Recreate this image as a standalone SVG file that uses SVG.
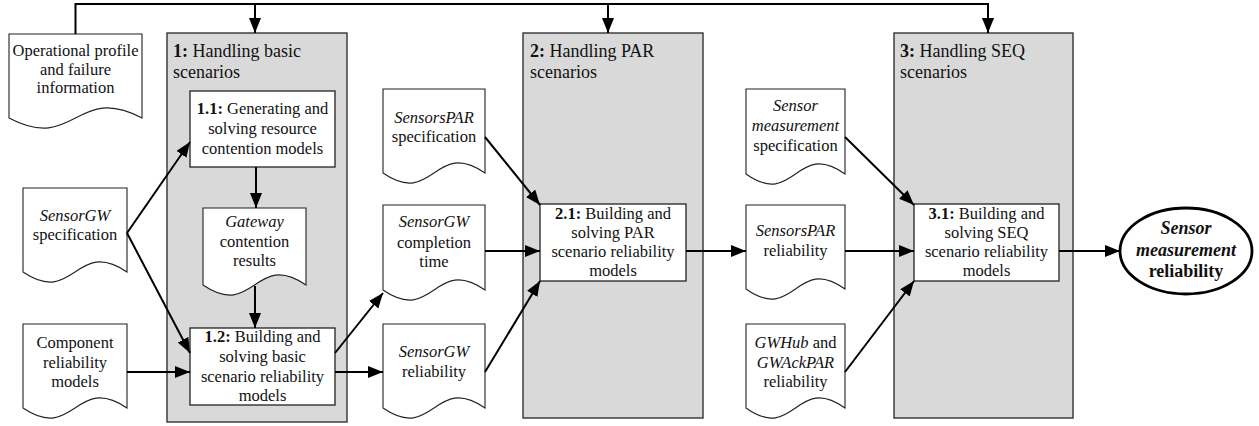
<svg xmlns="http://www.w3.org/2000/svg" width="1259" height="426" viewBox="0 0 1259 426">
<defs>
<marker id="ah" markerUnits="userSpaceOnUse" markerWidth="16" markerHeight="13" refX="15" refY="6" orient="auto">
<path d="M0,0 L15,6 L0,12 z" fill="#000"/>
</marker>
<style>
text{font-family:"Liberation Serif","Times New Roman",serif;font-size:16.5px;fill:#111;}
.c{text-anchor:middle;}
.h{font-size:18px;}
.i{font-style:italic;}
.b{font-weight:bold;}
.grp{fill:#d9d9d9;stroke:#333;stroke-width:1.4;}
.box{fill:#fff;stroke:#222;stroke-width:1.3;}
.doc{fill:#fff;stroke:#222;stroke-width:1.1;}
.con{fill:none;stroke:#000;stroke-width:2;}
.ell{fill:#fff;stroke:#000;stroke-width:2.8;}
.e{font-size:18px;font-weight:bold;}
</style>
</defs>

<g id="group1">
<rect class="grp" x="167" y="33" width="180" height="389"/>
<text x="173" y="57" class="h"><tspan class="b">1:</tspan> Handling basic</text>
<text x="173" y="78" class="h">scenarios</text>
</g>
<g id="group2">
<rect class="grp" x="523" y="33" width="180" height="385"/>
<text x="530" y="57" class="h"><tspan class="b">2:</tspan> Handling PAR</text>
<text x="530" y="78" class="h">scenarios</text>
</g>
<g id="group3">
<rect class="grp" x="894" y="33" width="179" height="385"/>
<text x="900" y="57" class="h"><tspan class="b">3:</tspan> Handling SEQ</text>
<text x="900" y="78" class="h">scenarios</text>
</g>

<g id="task11">
<rect class="box" x="190" y="91" width="145" height="76"/>
<text class="c" x="262.5" y="114"><tspan class="b">1.1:</tspan> Generating and</text>
<text class="c" x="262.5" y="134">solving resource</text>
<text class="c" x="262.5" y="154">contention models</text>
</g>
<g id="task12">
<rect class="box" x="190" y="328" width="145" height="77"/>
<text class="c" x="262.5" y="342"><tspan class="b">1.2:</tspan> Building and</text>
<text class="c" x="262.5" y="362">solving basic</text>
<text class="c" x="262.5" y="382">scenario reliability</text>
<text class="c" x="262.5" y="401">models</text>
</g>
<g id="task21">
<rect class="box" x="540" y="204" width="146" height="77"/>
<text class="c" x="613" y="219"><tspan class="b">2.1:</tspan> Building and</text>
<text class="c" x="613" y="238">solving PAR</text>
<text class="c" x="613" y="257">scenario reliability</text>
<text class="c" x="613" y="276">models</text>
</g>
<g id="task31">
<rect class="box" x="914" y="204" width="145" height="77"/>
<text class="c" x="986.5" y="219"><tspan class="b">3.1:</tspan> Building and</text>
<text class="c" x="986.5" y="238">solving SEQ</text>
<text class="c" x="986.5" y="257">scenario reliability</text>
<text class="c" x="986.5" y="276">models</text>
</g>

<g id="doc-op">
<path class="doc" d="M9,34 H142 V118 C75.5,83 75.5,153 9,118 Z"/>
<text class="c" x="75.5" y="56">Operational profile</text>
<text class="c" x="75.5" y="75">and failure</text>
<text class="c" x="75.5" y="93">information</text>
</g>
<g id="doc-sgwspec">
<path class="doc" d="M23,188 H127 V272 C75,237 75,307 23,272 Z"/>
<text class="c i" x="75" y="221">SensorGW</text>
<text class="c" x="75" y="240">specification</text>
</g>
<g id="doc-comp">
<path class="doc" d="M23,324 H127 V408 C75,373 75,443 23,408 Z"/>
<text class="c" x="75" y="348">Component</text>
<text class="c" x="75" y="368">reliability</text>
<text class="c" x="75" y="387">models</text>
</g>
<g id="doc-gw">
<path class="doc" d="M203,208 H306 V285 C254.5,250 254.5,320 203,285 Z"/>
<text class="c i" x="254.5" y="227">Gateway</text>
<text class="c" x="254.5" y="247">contention</text>
<text class="c" x="254.5" y="266">results</text>
</g>
<g id="doc-sparspec">
<path class="doc" d="M383,89 H485 V173 C434,138 434,208 383,173 Z"/>
<text class="c i" x="434" y="123">SensorsPAR</text>
<text class="c" x="434" y="142">specification</text>
</g>
<g id="doc-sgwct">
<path class="doc" d="M383,205 H485 V290 C434,255 434,325 383,290 Z"/>
<text class="c i" x="434" y="227">SensorGW</text>
<text class="c" x="434" y="248">completion</text>
<text class="c" x="434" y="267">time</text>
</g>
<g id="doc-sgwrel">
<path class="doc" d="M383,324 H485 V408 C434,373 434,443 383,408 Z"/>
<text class="c i" x="434" y="357">SensorGW</text>
<text class="c" x="434" y="377">reliability</text>
</g>
<g id="doc-smspec">
<path class="doc" d="M746,89 H845 V174 C795.5,139 795.5,209 746,174 Z"/>
<text class="c i" x="795.5" y="111">Sensor</text>
<text class="c i" x="795.5" y="131">measurement</text>
<text class="c" x="795.5" y="151">specification</text>
</g>
<g id="doc-sparrel">
<path class="doc" d="M746,205 H845 V289 C795.5,254 795.5,324 746,289 Z"/>
<text class="c i" x="795.5" y="236">SensorsPAR</text>
<text class="c" x="795.5" y="256">reliability</text>
</g>
<g id="doc-gwhub">
<path class="doc" d="M746,324 H845 V408 C795.5,373 795.5,443 746,408 Z"/>
<text class="c" x="795.5" y="348"><tspan class="i">GWHub</tspan> and</text>
<text class="c i" x="795.5" y="368">GWAckPAR</text>
<text class="c" x="795.5" y="387">reliability</text>
</g>

<g id="result">
<ellipse class="ell" cx="1186" cy="251" rx="66" ry="43"/>
<text class="c e i" x="1186" y="234">Sensor</text>
<text class="c e i" x="1186" y="256">measurement</text>
<text class="c e" x="1186" y="277">reliability</text>
</g>

<g id="connectors">
<path class="con" d="M75.5,34 V4 H988 V33" marker-end="url(#ah)"/>
<path class="con" d="M255,4 V33" marker-end="url(#ah)"/>
<path class="con" d="M608,4 V33" marker-end="url(#ah)"/>
<path class="con" d="M127,233 L190,142" marker-end="url(#ah)"/>
<path class="con" d="M127,233 L190,353" marker-end="url(#ah)"/>
<path class="con" d="M256,167 V208" marker-end="url(#ah)"/>
<path class="con" d="M255,286 V328" marker-end="url(#ah)"/>
<path class="con" d="M127,372 H190" marker-end="url(#ah)"/>
<path class="con" d="M335,353 L383,293" marker-end="url(#ah)"/>
<path class="con" d="M335,372 H383" marker-end="url(#ah)"/>
<path class="con" d="M485,137 L540,205" marker-end="url(#ah)"/>
<path class="con" d="M485,251 H540" marker-end="url(#ah)"/>
<path class="con" d="M485,372 L540,281" marker-end="url(#ah)"/>
<path class="con" d="M686,251 H746" marker-end="url(#ah)"/>
<path class="con" d="M845,137 L914,205" marker-end="url(#ah)"/>
<path class="con" d="M845,251 H914" marker-end="url(#ah)"/>
<path class="con" d="M845,372 L914,281" marker-end="url(#ah)"/>
<path class="con" d="M1059,251 H1120" marker-end="url(#ah)"/>
</g>
</svg>
